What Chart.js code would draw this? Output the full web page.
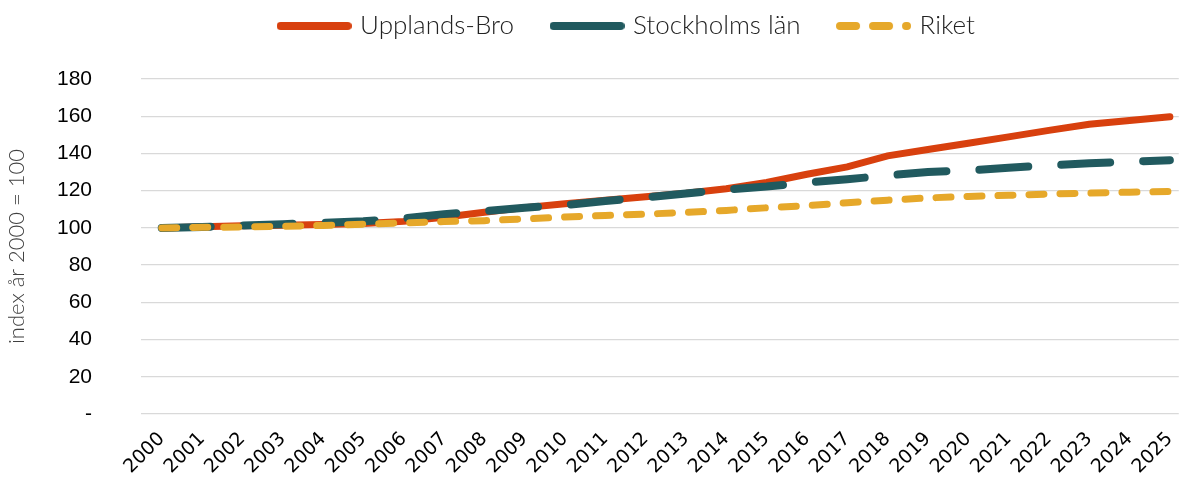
<!DOCTYPE html>
<html>
<head>
<meta charset="utf-8">
<script src="https://cdn.jsdelivr.net/npm/chart.js@4"></script>
<style>
  html, body { margin: 0; padding: 0; background: #fff; }
  #wrap { width: 1192px; height: 484px; }
</style>
</head>
<body>
<div id="wrap"><canvas id="myChart"></canvas></div>
<script>
var years = ["2000","2001","2002","2003","2004","2005","2006","2007","2008","2009","2010","2011","2012",
             "2013","2014","2015","2016","2017","2018","2019","2020","2021","2022","2023","2024","2025"];
var upplandsBro = [100,100.6,101.1,101.4,101.8,102.3,103.5,105.7,108.4,110.9,113,114.9,116.7,
                   118.6,121,124.4,128.8,132.8,138.7,142.1,145.5,148.9,152.4,155.7,157.7,159.7];
var stockholm = [100,100.5,101.3,102,102.7,103.6,105.1,107.4,109,110.8,112.3,114.5,116.4,
                 118.5,120.6,122.2,124.4,126.1,128.2,130,130.9,132.3,133.6,134.7,135.6,136.4];
var riket = [100,100.3,100.5,100.9,101.3,102,102.7,103.4,103.9,104.8,105.8,106.7,107.4,
             108.3,109.4,110.8,111.9,113.5,114.9,116.1,116.9,117.5,118.2,118.7,119.2,119.5];
var yTicks = ["-","20","40","60","80","100","120","140","160","180"];

function points(values) {
    return values.map(function (v, i) { return { x: i, y: v }; });
}

// small line sample for the legend (keeps the dash of the series)
function legendIcon(color, dash) {
    var c = document.createElement('canvas');
    c.width = 75;
    c.height = 10;
    var g = c.getContext('2d');
    g.strokeStyle = color;
    g.lineWidth = 8;
    g.lineCap = 'round';
    g.setLineDash(dash);
    g.beginPath();
    g.moveTo(4, 5);
    g.lineTo(71, 5);
    g.stroke();
    return c;
}

// legend band is 79px high, items sit near its top
var legendBand = {
    id: 'legendBand',
    beforeInit: function (chart) {
        var fit = chart.legend.fit;
        chart.legend.fit = function () {
            fit.call(this);
            this.height = 79;
        };
    },
    afterLayout: function (chart) {
        chart.legend.top = -27;
        chart.legend.left += 32;
        chart.legend.right += 32;
    }
};

var ctx = document.getElementById('myChart').getContext('2d');
var chart = new Chart(ctx, {
    type: 'line',
    data: {
        datasets: [{
            label: "Upplands-Bro",
            data: points(upplandsBro),
            borderWidth: 7,
            borderColor: '#d8400e',
            backgroundColor: '#d8400e',
            borderCapStyle: 'round',
            order: 3
        },
        {
            label: "Stockholms län",
            data: points(stockholm),
            borderWidth: 8,
            borderColor: '#215a5f',
            backgroundColor: '#215a5f',
            borderDash: [49, 33],
            borderCapStyle: 'round',
            order: 2
        },
        {
            label: "Riket",
            data: points(riket),
            borderWidth: 7,
            borderColor: '#e6a82a',
            backgroundColor: '#e6a82a',
            borderDash: [15, 16],
            borderCapStyle: 'round',
            order: 1
        }]
    },
    options: {
        responsive: true,
        maintainAspectRatio: false,
        animation: false,
        layout: { padding: 0 },
        elements: {
            point: { radius: 0, hoverRadius: 0 },
            line: { tension: 0 }
        },
        plugins: {
            tooltip: { enabled: false },
            legend: {
                position: 'top',
                labels: {
                    usePointStyle: true,
                    pointStyleWidth: 66,
                    padding: 40,
                    color: '#222',
                    font: { family: 'Lato', weight: '300', size: 26 },
                    sort: function (a, b) { return a.datasetIndex - b.datasetIndex; },
                    generateLabels: function (chart) {
                        var items = Chart.defaults.plugins.legend.labels.generateLabels(chart);
                        items.forEach(function (item) {
                            var ds = chart.data.datasets[item.datasetIndex];
                            var dash = ds.label === "Riket" ? [16, 17] : [];
                            item.pointStyle = legendIcon(ds.borderColor, dash);
                        });
                        return items;
                    }
                }
            }
        },
        scales: {
            x: {
                type: 'linear',
                min: -0.514,
                max: 25.22,
                grid: { display: false },
                border: { display: false },
                afterFit: function (scale) { scale.height = 70; },
                ticks: {
                    stepSize: 1,
                    includeBounds: false,
                    autoSkip: false,
                    minRotation: 45,
                    maxRotation: 45,
                    padding: 6,
                    color: '#000',
                    font: { family: "'DejaVu Sans'", size: 19 },
                    callback: function (v) {
                        return Number.isInteger(v) ? years[v] : '';
                    }
                }
            },
            y: {
                min: 0,
                max: 180,
                grid: { color: '#d9d9d9', lineWidth: 1.3, drawTicks: false },
                border: { display: false },
                afterFit: function (scale) { scale.width = 141; },
                title: {
                    display: true,
                    text: 'index år 2000 = 100',
                    color: '#404040',
                    padding: { top: 4, bottom: 0 },
                    font: { family: 'Lato', weight: '300', size: 22 }
                },
                ticks: {
                    stepSize: 20,
                    padding: 49,
                    color: '#000',
                    font: { family: "'Liberation Sans'", size: 21 },
                    callback: function (v) { return yTicks[v / 20]; }
                }
            }
        }
    },
    plugins: [legendBand]
});
</script>
</body>
</html>
